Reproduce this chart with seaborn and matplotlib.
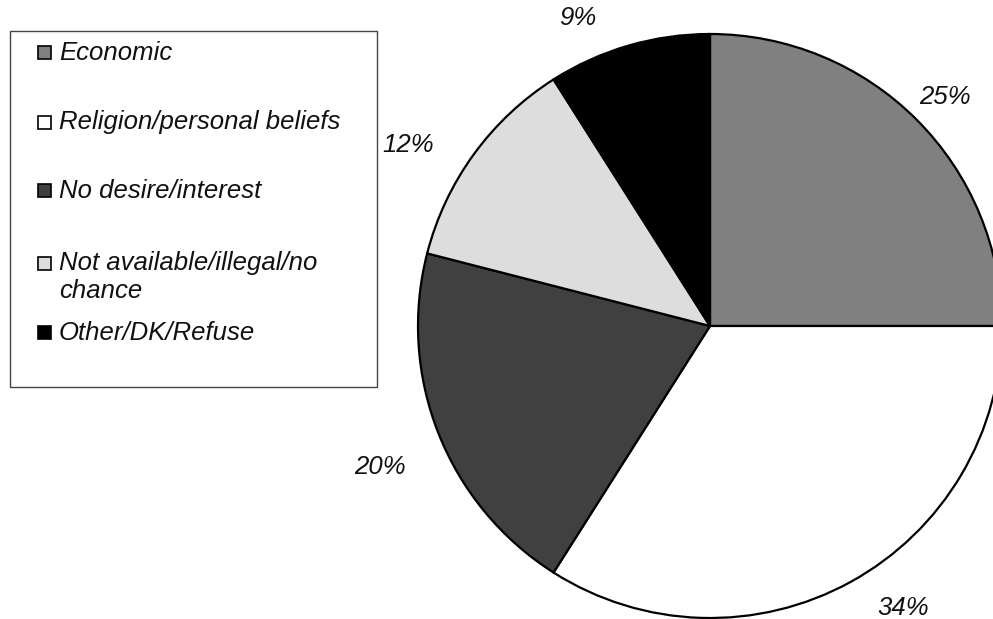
import numpy as np
import matplotlib
matplotlib.use("Agg")
import matplotlib.pyplot as plt
from matplotlib.patches import Rectangle
import seaborn as sns

# ---- data ----
categories = ["Economic", "Religion/personal beliefs", "No desire/interest",
              "Not available/illegal/no\nchance", "Other/DK/Refuse"]
values = [25, 34, 20, 12, 9]
colors = ["#808080", "#ffffff", "#404040", "#dddddd", "#000000"]

sns.set_theme(style="white")
plt.rcParams["font.family"] = ["Liberation Sans", "DejaVu Sans"]

W, H = 993, 619
fig = plt.figure(figsize=(W / 100, H / 100), dpi=100)
fig.patch.set_facecolor("white")

# pie axes in pixel units (y up)
ax = fig.add_axes([0, 0, 1, 1])
cx, cy, R = 710, H - 326, 292
wedges, _ = ax.pie(values, colors=colors, startangle=90, counterclock=False,
                   center=(cx, cy), radius=R,
                   wedgeprops=dict(edgecolor="black", linewidth=1.6))
ax.set_xlim(0, W)
ax.set_ylim(0, H)
ax.set_aspect("equal")
ax.axis("off")

# percentage labels: placed around wedge mid-angles (layout tweaks)
ang_adj = [-0.7, 5.7, 1.5, 5.0, 7.0]
dist = [1.125, 1.17, 1.23, 1.205, 1.147]
for w, v, da, d in zip(wedges, values, ang_adj, dist):
    mid = np.deg2rad((w.theta1 + w.theta2) / 2 + da)
    ax.text(cx + d * R * np.cos(mid), cy + d * R * np.sin(mid), f"{v}%",
            ha="center", va="center", fontsize=18.5, style="italic", color="#111111")

# legend drawn in pixel coordinates (y down)
lg = fig.add_axes([0, 0, 1, 1])
lg.set_xlim(0, W)
lg.set_ylim(H, 0)
lg.axis("off")
lg.patch.set_alpha(0)
lg.add_patch(Rectangle((10, 31), 367, 356, facecolor="white", edgecolor="#444444", linewidth=1.0))
row_y = [52.5, 122, 190.5, 263, 332.5]
for lab, c, y in zip(categories, colors, row_y):
    lg.add_patch(Rectangle((38, y - 6.5), 13, 13, facecolor=c, edgecolor="black", linewidth=1.2))
    lines = lab.split("\n")
    for k, line in enumerate(lines):
        lg.text(59, y + k * 28, line, ha="left", va="center", fontsize=18.5,
                style="italic", color="#111111")

fig.savefig("out.png", dpi=100)
